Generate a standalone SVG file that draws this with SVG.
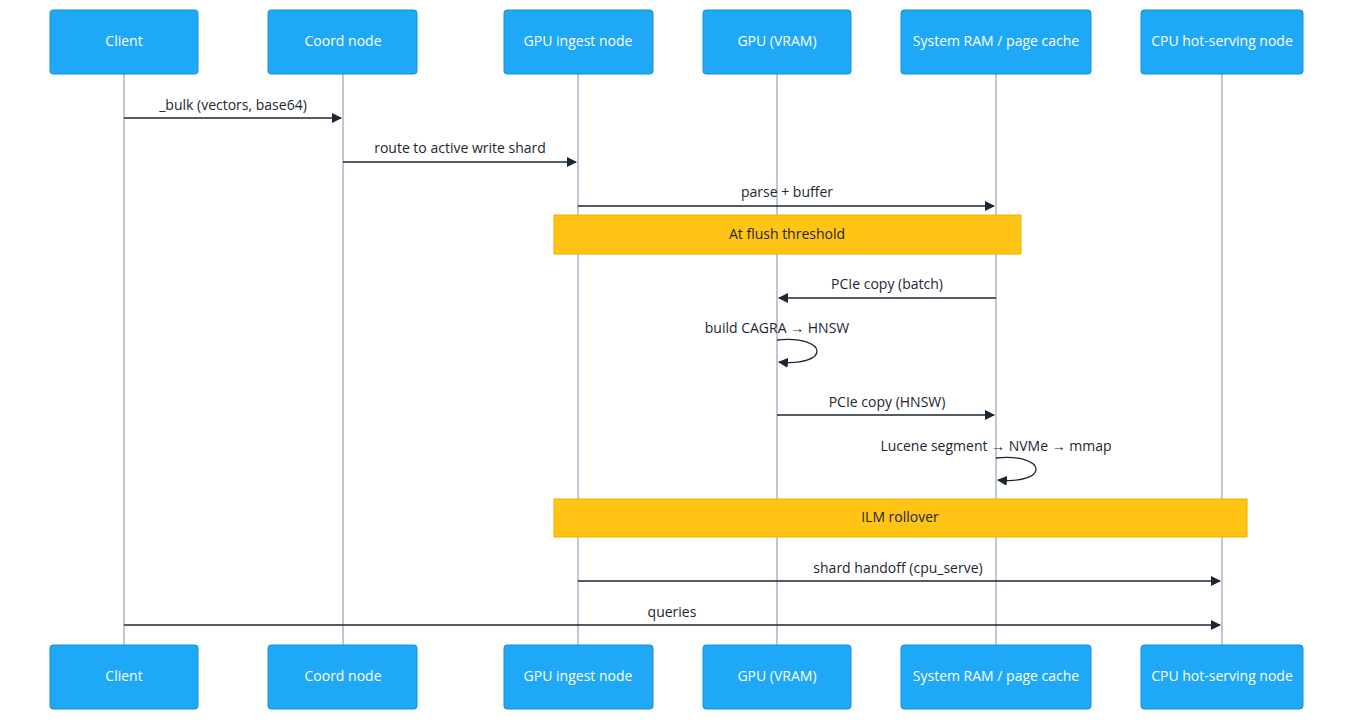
<svg xmlns="http://www.w3.org/2000/svg" width="1361" height="725" viewBox="0 0 1361 725">
<style>
.box{fill:#1ea8f6;stroke:#1790d8;stroke-width:1}
.bt{font-family:"Open Sans","Liberation Sans",sans-serif;font-size:14px;fill:#fff;text-anchor:middle;dominant-baseline:middle}
.life{stroke:#a8b4c4;stroke-width:1.5}
.msg{stroke:#1c2633;stroke-width:1.3;fill:none;marker-end:url(#ah)}
.ml{font-family:"Open Sans","Liberation Sans",sans-serif;font-size:14px;fill:#1c2633;text-anchor:middle}
.note{fill:#ffc414;stroke:#f0b000;stroke-width:1}
.nt{font-family:"Open Sans","Liberation Sans",sans-serif;font-size:14px;fill:#1c2633;text-anchor:middle;dominant-baseline:middle}
</style>
<defs><marker id="ah" markerWidth="10" markerHeight="10" refX="9" refY="5" orient="auto" markerUnits="userSpaceOnUse"><path d="M0,0 L10,5 L0,10 z" fill="#1c2633"/></marker></defs>
<rect width="1361" height="725" fill="#fff"/>
<g id="lifelines">
<line class="life" x1="124" y1="74" x2="124" y2="645"/>
<line class="life" x1="343" y1="74" x2="343" y2="645"/>
<line class="life" x1="578" y1="74" x2="578" y2="645"/>
<line class="life" x1="777" y1="74" x2="777" y2="645"/>
<line class="life" x1="996" y1="74" x2="996" y2="645"/>
<line class="life" x1="1222" y1="74" x2="1222" y2="645"/>
</g>
<g id="note1"><rect class="note" x="554" y="215" width="467" height="39"/><text class="nt" x="787" y="235">At flush threshold</text></g>
<g id="note2"><rect class="note" x="554" y="499" width="693" height="38"/><text class="nt" x="900" y="518">ILM rollover</text></g>
<g id="connectors">
<line class="msg" x1="124" y1="118" x2="341" y2="118"/><text class="ml" x="233" y="110">_bulk (vectors, base64)</text>
<line class="msg" x1="343" y1="162" x2="576" y2="162"/><text class="ml" x="460" y="153">route to active write shard</text>
<line class="msg" x1="578" y1="206" x2="994" y2="206"/><text class="ml" x="787" y="197">parse + buffer</text>
<line class="msg" x1="996" y1="298" x2="779" y2="298"/><text class="ml" x="887" y="289">PCIe copy (batch)</text>
<path class="msg" d="M777,340 C830,335 830,367 779,362"/><text class="ml" x="777" y="333">build CAGRA → HNSW</text>
<line class="msg" x1="777" y1="415" x2="994" y2="415"/><text class="ml" x="887" y="407">PCIe copy (HNSW)</text>
<path class="msg" d="M996,458 C1049,453 1049,485 998,480"/><text class="ml" x="996" y="451">Lucene segment → NVMe → mmap</text>
<line class="msg" x1="578" y1="581" x2="1220" y2="581"/><text class="ml" x="898" y="573">shard handoff (cpu_serve)</text>
<line class="msg" x1="124" y1="625" x2="1220" y2="625"/><text class="ml" x="672" y="617">queries</text>
</g>
<g id="client"><rect class="box" x="50" y="10" width="148" height="64" rx="3"/><text class="bt" x="124" y="42">Client</text><rect class="box" x="50" y="645" width="148" height="64" rx="3"/><text class="bt" x="124" y="677">Client</text></g>
<g id="coord"><rect class="box" x="268" y="10" width="149" height="64" rx="3"/><text class="bt" x="343" y="42">Coord node</text><rect class="box" x="268" y="645" width="149" height="64" rx="3"/><text class="bt" x="343" y="677">Coord node</text></g>
<g id="ingest"><rect class="box" x="504" y="10" width="149" height="64" rx="3"/><text class="bt" x="578" y="42">GPU ingest node</text><rect class="box" x="504" y="645" width="149" height="64" rx="3"/><text class="bt" x="578" y="677">GPU ingest node</text></g>
<g id="vram"><rect class="box" x="703" y="10" width="148" height="64" rx="3"/><text class="bt" x="777" y="42">GPU (VRAM)</text><rect class="box" x="703" y="645" width="148" height="64" rx="3"/><text class="bt" x="777" y="677">GPU (VRAM)</text></g>
<g id="ram"><rect class="box" x="901" y="10" width="190" height="64" rx="3"/><text class="bt" x="996" y="42">System RAM / page cache</text><rect class="box" x="901" y="645" width="190" height="64" rx="3"/><text class="bt" x="996" y="677">System RAM / page cache</text></g>
<g id="cpu"><rect class="box" x="1141" y="10" width="162" height="64" rx="3"/><text class="bt" x="1222" y="42">CPU hot-serving node</text><rect class="box" x="1141" y="645" width="162" height="64" rx="3"/><text class="bt" x="1222" y="677">CPU hot-serving node</text></g>
</svg>
